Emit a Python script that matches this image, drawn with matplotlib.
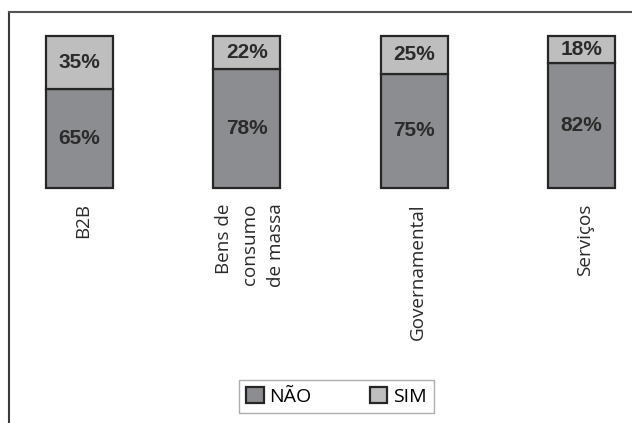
import matplotlib
matplotlib.use("Agg")
import matplotlib.pyplot as plt
from matplotlib.patches import Patch
from matplotlib.lines import Line2D

# dados
categorias = ["B2B", "Bens de\nconsumo\nde massa", "Governamental", "Serviços"]
nao = [65, 78, 75, 82]
sim = [35, 22, 25, 18]

cor_nao = "#8c8d90"
cor_sim = "#bebebf"
cor_borda = "#262626"

fig = plt.figure(figsize=(6.32, 4.23), dpi=100)
fig.patch.set_facecolor("white")

# eixo posicionado para que as barras ocupem y 36..188 px
W, H = 632, 423
ax = fig.add_axes([0, (H - 188) / H, 1, 152 / H])
ax.set_xlim(-79.5 / 167.3, (W - 79.5) / 167.3)
ax.set_ylim(0, 100)
ax.axis("off")

x = list(range(len(categorias)))
ax.bar(x, nao, width=0.40, color=cor_nao, edgecolor=cor_borda, linewidth=1.6, clip_on=False)
ax.bar(x, sim, width=0.40, bottom=nao, color=cor_sim, edgecolor=cor_borda, linewidth=1.6, clip_on=False)

for i in x:
    ax.text(i, nao[i] / 2, f"{nao[i]}%", ha="center", va="center", fontsize=15,
            fontweight="bold", family="Liberation Sans", color="#2b2b2b")
    ax.text(i, nao[i] + sim[i] / 2, f"{sim[i]}%", ha="center", va="center", fontsize=15,
            fontweight="bold", family="Liberation Sans", color="#2b2b2b")
    ax.text(i + 0.02, -10.0, categorias[i], rotation=90, ha="center", va="top",
            multialignment="right", fontsize=13.6, family="Open Sans",
            color="#2a2a2a", linespacing=1.55)

# moldura (só topo e esquerda aparecem)
fx = 9 / W
fy = 1 - 12 / H
fig.add_artist(Line2D([fx, fx], [0, fy], transform=fig.transFigure, color="#3a3a3a", lw=1.5))
fig.add_artist(Line2D([fx, 1], [fy, fy], transform=fig.transFigure, color="#555555", lw=1.5))

# legenda
handles = [Patch(facecolor=cor_nao, edgecolor=cor_borda, linewidth=1.6, label="NÃO"),
           Patch(facecolor=cor_sim, edgecolor=cor_borda, linewidth=1.6, label="SIM")]
leg = fig.legend(handles=handles, loc="center", bbox_to_anchor=(336.5 / W, 1 - 396.5 / H),
                 ncol=2, frameon=True, fancybox=False, prop={"family": "Open Sans", "size": 14},
                 handlelength=0.9, handleheight=0.9, handletextpad=0.3, columnspacing=3.0,
                 borderpad=0.35, borderaxespad=0)
leg.get_frame().set_edgecolor("#999999")
leg.get_frame().set_linewidth(1.0)

fig.savefig("out.png", dpi=100, facecolor="white")
